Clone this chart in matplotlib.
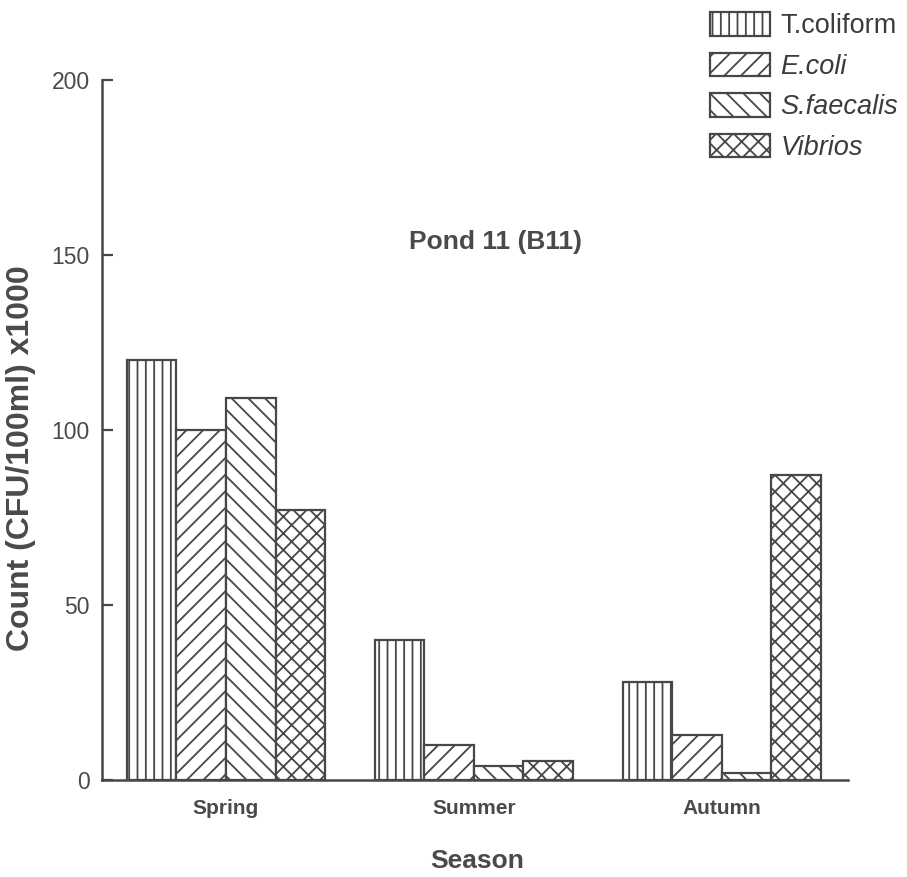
import numpy as np
import matplotlib
matplotlib.use("Agg")
import matplotlib.pyplot as plt

# Seasonal bacterial counts, Pond 11 (B11), CFU/100 ml x1000
seasons = ["Spring", "Summer", "Autumn"]
t_coliform = [120, 40, 28]
e_coli = [100, 10, 13]
s_faecalis = [109, 4, 2]
vibrios = [77, 5.5, 87]

series_labels = ["T.coliform", "E.coli", "S.faecalis", "Vibrios"]
series_values = [t_coliform, e_coli, s_faecalis, vibrios]
hatches = ["||", "//", "\\\\", "xx"]

ink = "#474747"
text_col = "#4a4a4a"

plt.rcParams["font.family"] = ["Liberation Sans", "DejaVu Sans"]
plt.rcParams["hatch.linewidth"] = 1.3
plt.rcParams["hatch.color"] = ink

fig = plt.figure(figsize=(9.07, 8.77), dpi=100)
ax = fig.add_axes([0.1125, 0.1106, 0.8225, 0.7982])

x = np.arange(len(seasons))
width = 0.2
offsets = [-0.3, -0.1, 0.1, 0.3]
handles = []
for vals, off, h, lab in zip(series_values, offsets, hatches, series_labels):
    bars = ax.bar(x + off, vals, width, facecolor="white", edgecolor=ink,
                  linewidth=1.6, hatch=h, label=lab, zorder=2)
    handles.append(bars)

ax.set_xlim(-0.5, 2.51)
ax.set_ylim(0, 200)
ax.set_yticks([0, 50, 100, 150, 200])

for side in ["top", "right"]:
    ax.spines[side].set_visible(False)
for side in ["left", "bottom"]:
    ax.spines[side].set_color(ink)
    ax.spines[side].set_linewidth(1.8)

ax.tick_params(axis="y", direction="in", length=8, width=1.6, color=ink,
               pad=9, labelsize=16.5, labelcolor=text_col)
ax.tick_params(axis="x", length=0, pad=14, labelsize=15, labelcolor=text_col)
ax.set_xticks(x)
ax.set_xticklabels(seasons, fontweight="bold")

ax.set_xlabel("Season", fontsize=19, fontweight="bold", color=text_col)
ax.xaxis.set_label_coords(0.503, -0.098)
ax.set_ylabel("Count (CFU/100ml) x1000", fontsize=23, fontweight="bold",
              color=text_col)
ax.yaxis.set_label_coords(-0.089, 0.46)

ax.text(0.527, 0.769, "Pond 11 (B11)", transform=ax.transAxes, ha="center",
        va="center", fontsize=19, fontweight="bold", color=text_col)

leg = fig.legend(handles=handles, labels=series_labels, loc="upper left",
                 bbox_to_anchor=(710 / 907, 1 - 12 / 877),
                 bbox_transform=fig.transFigure, frameon=False,
                 fontsize=19.5, handlelength=2.2, handleheight=0.96,
                 handletextpad=0.4, labelspacing=0.5, borderpad=0,
                 borderaxespad=0)
for i, t in enumerate(leg.get_texts()):
    t.set_color("#3c3c3c")
    if i > 0:
        t.set_style("italic")

fig.savefig("out.png", dpi=100, facecolor="white")
